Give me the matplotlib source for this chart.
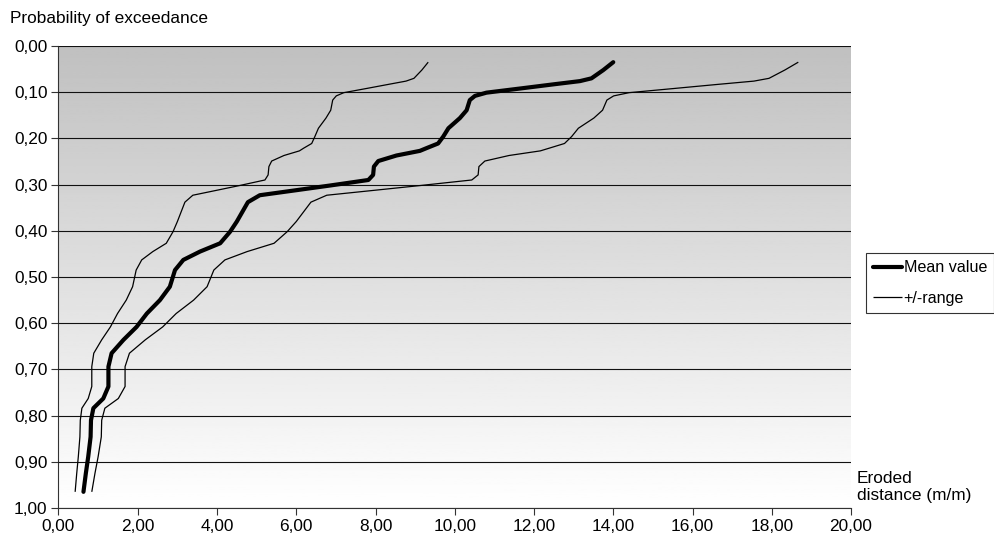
import numpy as np
import matplotlib
matplotlib.use("Agg")
import matplotlib.pyplot as plt

plt.rcParams['font.family'] = ['Liberation Sans', 'DejaVu Sans']
plt.rcParams['font.size'] = 12.4

# probability of exceedance (y) and eroded distance (x)
prob = [0.035, 0.052, 0.070, 0.076, 0.083, 0.092, 0.101, 0.108, 0.117, 0.139,
        0.156, 0.178, 0.196, 0.211, 0.221, 0.227, 0.237, 0.249, 0.261, 0.279,
        0.290, 0.302, 0.312, 0.323, 0.338, 0.380, 0.402, 0.427, 0.445, 0.463,
        0.485, 0.521, 0.550, 0.579, 0.608, 0.636, 0.665, 0.694, 0.737, 0.763,
        0.784, 0.810, 0.846, 0.889, 0.925, 0.965]
mean_val = [14.00, 13.75, 13.45, 13.16, 12.49, 11.65, 10.80, 10.51, 10.38, 10.30,
            10.13, 9.84, 9.71, 9.58, 9.29, 9.12, 8.53, 8.07, 7.96, 7.94,
            7.82, 6.85, 6.01, 5.08, 4.78, 4.50, 4.33, 4.08, 3.57, 3.15,
            2.94, 2.81, 2.56, 2.23, 1.97, 1.64, 1.34, 1.26, 1.26, 1.13,
            0.88, 0.82, 0.81, 0.75, 0.69, 0.63]
range_low = [9.33, 9.17, 8.97, 8.77, 8.33, 7.77, 7.20, 7.01, 6.92, 6.87,
             6.75, 6.56, 6.47, 6.39, 6.19, 6.08, 5.69, 5.38, 5.31, 5.29,
             5.21, 4.57, 4.01, 3.39, 3.19, 3.00, 2.89, 2.72, 2.38, 2.10,
             1.96, 1.87, 1.71, 1.49, 1.31, 1.09, 0.89, 0.84, 0.84, 0.75,
             0.59, 0.55, 0.54, 0.50, 0.46, 0.42]
range_high = [18.67, 18.33, 17.93, 17.55, 16.65, 15.53, 14.40, 14.01, 13.84, 13.73,
              13.51, 13.12, 12.95, 12.77, 12.39, 12.16, 11.37, 10.76, 10.61, 10.59,
              10.43, 9.13, 8.01, 6.77, 6.37, 6.00, 5.77, 5.44, 4.76, 4.20,
              3.92, 3.75, 3.41, 2.97, 2.63, 2.19, 1.79, 1.68, 1.68, 1.51,
              1.17, 1.09, 1.08, 1.00, 0.92, 0.84]

x_ticks = [0, 2, 4, 6, 8, 10, 12, 14, 16, 18, 20]
x_labels = ["0,00", "2,00", "4,00", "6,00", "8,00", "10,00", "12,00",
            "14,00", "16,00", "18,00", "20,00"]
y_ticks = [0.0, 0.1, 0.2, 0.3, 0.4, 0.5, 0.6, 0.7, 0.8, 0.9, 1.0]
y_labels = ["0,00", "0,10", "0,20", "0,30", "0,40", "0,50", "0,60",
            "0,70", "0,80", "0,90", "1,00"]

fig = plt.figure(figsize=(9.95, 5.44), dpi=100)
ax = fig.add_axes([58.5 / 995, 1 - 508 / 544, (851 - 58.5) / 995, (508 - 46) / 544])

# gray-to-white background gradient
grad = np.linspace(192 / 255, 1.0, 256).reshape(-1, 1)
ax.imshow(grad, cmap='gray', vmin=0, vmax=1, aspect='auto',
          extent=[0, 20, 1, 0], origin='upper', zorder=0)

ax.plot(range_low, prob, color='black', lw=0.9, solid_capstyle='butt', zorder=3)
ax.plot(range_high, prob, color='black', lw=0.9, solid_capstyle='butt', zorder=3,
        label='+/-range')
ax.plot(mean_val, prob, color='black', lw=3.0, solid_capstyle='round', zorder=4,
        label='Mean value')

ax.set_xlim(0, 20)
ax.set_ylim(1, 0)
ax.set_xticks(x_ticks)
ax.set_xticklabels(x_labels)
ax.set_yticks(y_ticks)
ax.set_yticklabels(y_labels)
ax.yaxis.grid(True, color='#111111', lw=0.8, zorder=1)
ax.set_axisbelow(False)
ax.tick_params(direction='out', length=5, width=0.8, color='#333333', pad=3)

for side in ['top', 'right']:
    ax.spines[side].set_visible(False)
for side in ['left', 'bottom']:
    ax.spines[side].set_color('#333333')
    ax.spines[side].set_linewidth(0.8)

fig.text(10 / 995, 1 - 19 / 544, "Probability of exceedance", ha='left', va='center')
fig.text(857 / 995, 1 - 471 / 544, "Eroded\ndistance (m/m)", ha='left', va='top',
         linespacing=1.15)

handles, labels = ax.get_legend_handles_labels()
leg = fig.legend(handles[::-1], labels[::-1], loc='upper left',
                 bbox_to_anchor=(866 / 995, 1 - 253 / 544),
                 frameon=True, fancybox=False, shadow=False, fontsize=11.6,
                 handlelength=1.8, handletextpad=0.08, borderpad=0.45,
                 borderaxespad=0, labelspacing=0.95, handleheight=0.7)
leg.get_frame().set_edgecolor('black')
leg.get_frame().set_linewidth(0.8)

fig.savefig("out.png", dpi=100)
